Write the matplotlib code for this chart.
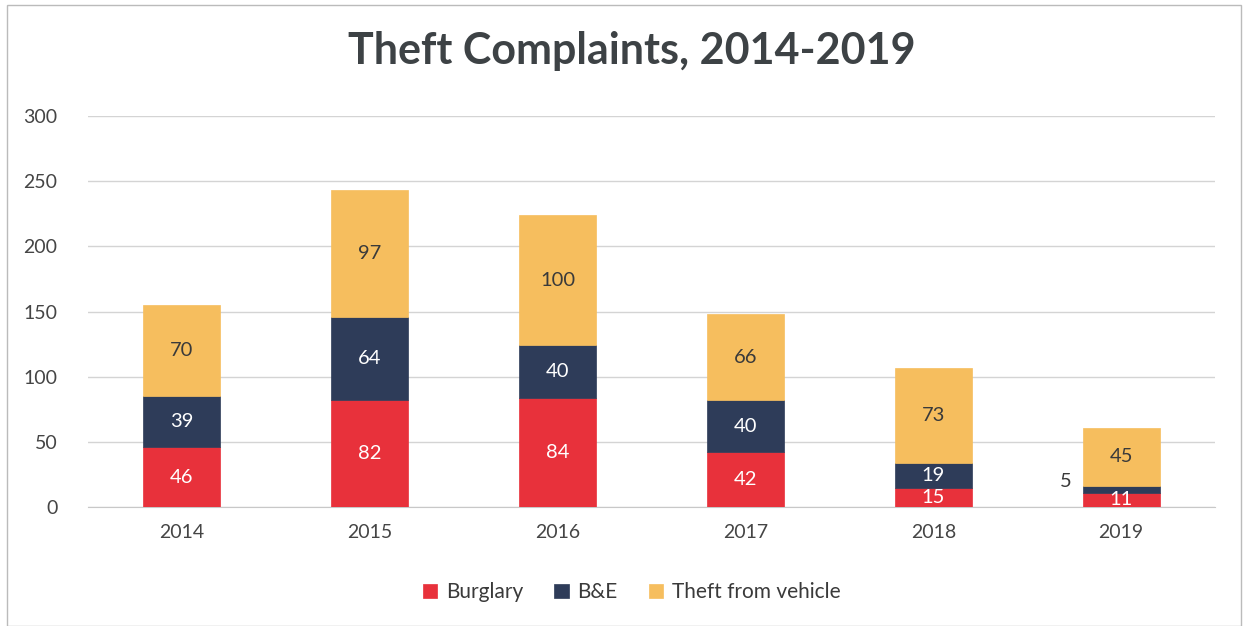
import matplotlib
matplotlib.use("Agg")
import matplotlib.pyplot as plt
import numpy as np
from matplotlib.patches import Rectangle

years = ["2014", "2015", "2016", "2017", "2018", "2019"]
burglary = [46, 82, 84, 42, 15, 11]
bne = [39, 64, 40, 40, 19, 5]
theft_vehicle = [70, 97, 100, 66, 73, 45]
series_names = ["Burglary", "B&E", "Theft from vehicle"]
yticks = [0, 50, 100, 150, 200, 250, 300]

colors = ["#E8313B", "#2E3C59", "#F6BE5E"]
label_colors = ["white", "white", "#3a3a3a"]

plt.rcParams['font.family'] = ['Lato', 'DejaVu Sans']

fig = plt.figure(figsize=(12.43, 6.26), dpi=100)
ax = fig.add_axes([0.0708, 0.19, 0.9067, 0.6247])

x = np.arange(len(years))
width = 0.41
bottoms = np.zeros(len(years))
data = [burglary, bne, theft_vehicle]
for vals, col, name, lc in zip(data, colors, series_names, label_colors):
    vals = np.array(vals, dtype=float)
    ax.bar(x, vals, width, bottom=bottoms, color=col, label=name, zorder=3,
           edgecolor=col, linewidth=0.5)
    for i, (v, b) in enumerate(zip(vals, bottoms)):
        if v >= 10:
            ax.text(x[i], b + v / 2, f"{int(v)}", ha="center", va="center",
                    color=lc, fontsize=14.5, zorder=4)
        else:
            ax.text(x[i] - width / 2 - 0.09, b + v / 2 + 6, f"{int(v)}",
                    ha="center", va="center", color="#3a3a3a", fontsize=14.5, zorder=4)
    bottoms += vals

ax.set_xlim(-0.5, len(years) - 0.5)
ax.set_ylim(0, 300)
ax.set_yticks(yticks)
ax.set_yticklabels([str(t) for t in yticks])
ax.set_xticks(x)
ax.set_xticklabels(years)
ax.tick_params(axis="both", length=0, labelsize=14, colors="#454545")
ax.tick_params(axis="y", pad=22)
ax.tick_params(axis="x", pad=12)
ax.grid(axis="y", color="#d4d4d4", linewidth=1, zorder=0)
for s in ["top", "right", "left"]:
    ax.spines[s].set_visible(False)
ax.spines["bottom"].set_color("#c8c8c8")

fig.text(0.5085, 0.918, "Theft Complaints, 2014-2019", ha="center", va="center",
         fontsize=31, fontweight="bold", color="#3d4245")

leg = fig.legend(loc="center", bbox_to_anchor=(0.508, 0.054), ncol=3, frameon=False,
                 fontsize=15, handlelength=0.7, handleheight=0.7, columnspacing=1.5,
                 handletextpad=0.4)
for t in leg.get_texts():
    t.set_color("#3a3a3a")

fig.patches.append(Rectangle((0.006, 0.0), 0.992, 0.992, transform=fig.transFigure,
                             fill=False, edgecolor="#bbbbbb", linewidth=1))

fig.savefig("out.png", dpi=100)
